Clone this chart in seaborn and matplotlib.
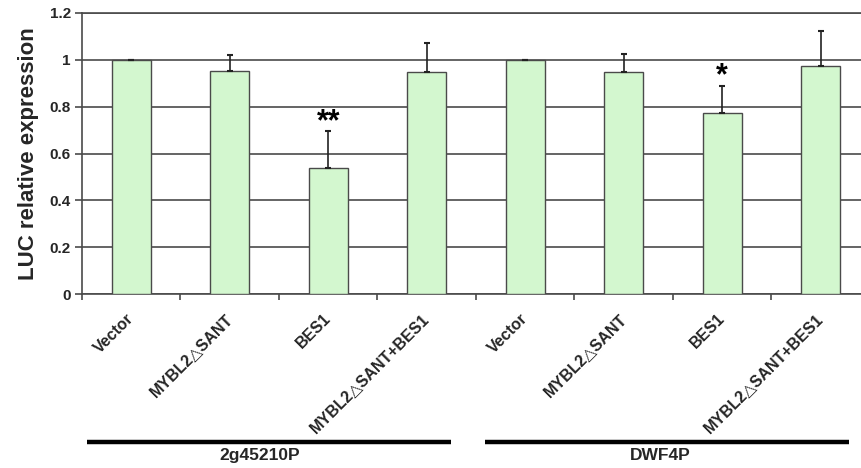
import matplotlib
matplotlib.use("Agg")
import matplotlib.pyplot as plt
import seaborn as sns
import pandas as pd
import numpy as np

groups = ["2g45210P", "DWF4P"]
conditions = ["Vector", "MYBL2\u25b3SANT", "BES1", "MYBL2\u25b3SANT+BES1"]
values_2g = [1.0, 0.952, 0.538, 0.947]
errors_2g = [0.0, 0.070, 0.157, 0.126]
values_dwf = [1.0, 0.947, 0.775, 0.972]
errors_dwf = [0.0, 0.077, 0.114, 0.152]
stars_2g = ["", "", "**", ""]
stars_dwf = ["", "", "*", ""]
y_ticks = [0, 0.2, 0.4, 0.6, 0.8, 1.0, 1.2]
y_tick_labels = ["0", "0.2", "0.4", "0.6", "0.8", "1", "1.2"]

sns.set_style("white")
plt.rcParams['font.family'] = ['Liberation Sans', 'DejaVu Sans']

keys = [f"{g}|{c}" for g in groups for c in conditions]
vals = values_2g + values_dwf
errs = errors_2g + errors_dwf
stars = stars_2g + stars_dwf
labels = conditions + conditions
df = pd.DataFrame({"key": keys, "value": vals})

fig = plt.figure(figsize=(8.62, 4.68), dpi=100)
ax = fig.add_axes([82/862, (468-294)/468, 788/862, 281/468])

sns.barplot(data=df, x="key", y="value", order=keys, color="#d3f7cf",
            width=0.4, edgecolor="#4a4a4a", linewidth=1.0, saturation=1,
            errorbar=None, ax=ax, zorder=3)
pos = np.arange(len(keys))
ax.errorbar(pos, vals, yerr=[np.zeros(len(errs)), errs], fmt="none",
            ecolor="#222222", elinewidth=1.2, capsize=2, capthick=1.5, zorder=4)
for p, v, e, s in zip(pos, vals, errs, stars):
    if s:
        ax.text(p, v + e + 0.005, s, ha="center", va="baseline", fontsize=22,
                fontweight="bold", color="black", zorder=5)

ax.set_ylim(0, 1.2)
ax.set_xlim(-0.5, len(keys) - 0.5)
ax.set_yticks(y_ticks)
ax.set_yticklabels(y_tick_labels, fontsize=11, fontweight="bold")
ax.yaxis.grid(True, color="#4a4a4a", linewidth=1.2)
ax.set_axisbelow(True)
for sp in ["left", "bottom", "top"]:
    ax.spines[sp].set_color("#4a4a4a")
    ax.spines[sp].set_linewidth(1.2)
ax.spines["right"].set_visible(False)
ax.tick_params(axis="y", direction="out", length=5, width=1.2, color="#4a4a4a", left=True, pad=3)

ax.set_xticks(pos)
ax.set_xticklabels(labels, rotation=45, ha="right", va="center",
                   rotation_mode="anchor", fontsize=11.5, fontweight="bold")
ax.tick_params(axis="x", which="major", length=0, pad=16)
ax.set_xticks(np.arange(-0.5, len(keys), 1.0), minor=True)
ax.tick_params(axis="x", which="minor", direction="out", length=4, width=1.2,
               color="#4a4a4a", bottom=True)
ax.set_xlabel("")
ax.set_ylabel("LUC relative expression", fontsize=16, fontweight="bold", labelpad=8)

# group underlines and labels
line_spans = [(-0.45, 3.25), (3.59, 7.29)]
label_x = [1.3, 5.37]
trans = ax.get_xaxis_transform()
for g, (x0, x1), lx in zip(groups, line_spans, label_x):
    ax.plot([x0, x1], [-0.527, -0.527], transform=trans, color="black",
            linewidth=3.2, clip_on=False, solid_capstyle="butt")
    ax.text(lx, -0.547, g, transform=trans, ha="center", va="top",
            fontsize=12.5, fontweight="bold")

fig.savefig("out.png", dpi=100)
